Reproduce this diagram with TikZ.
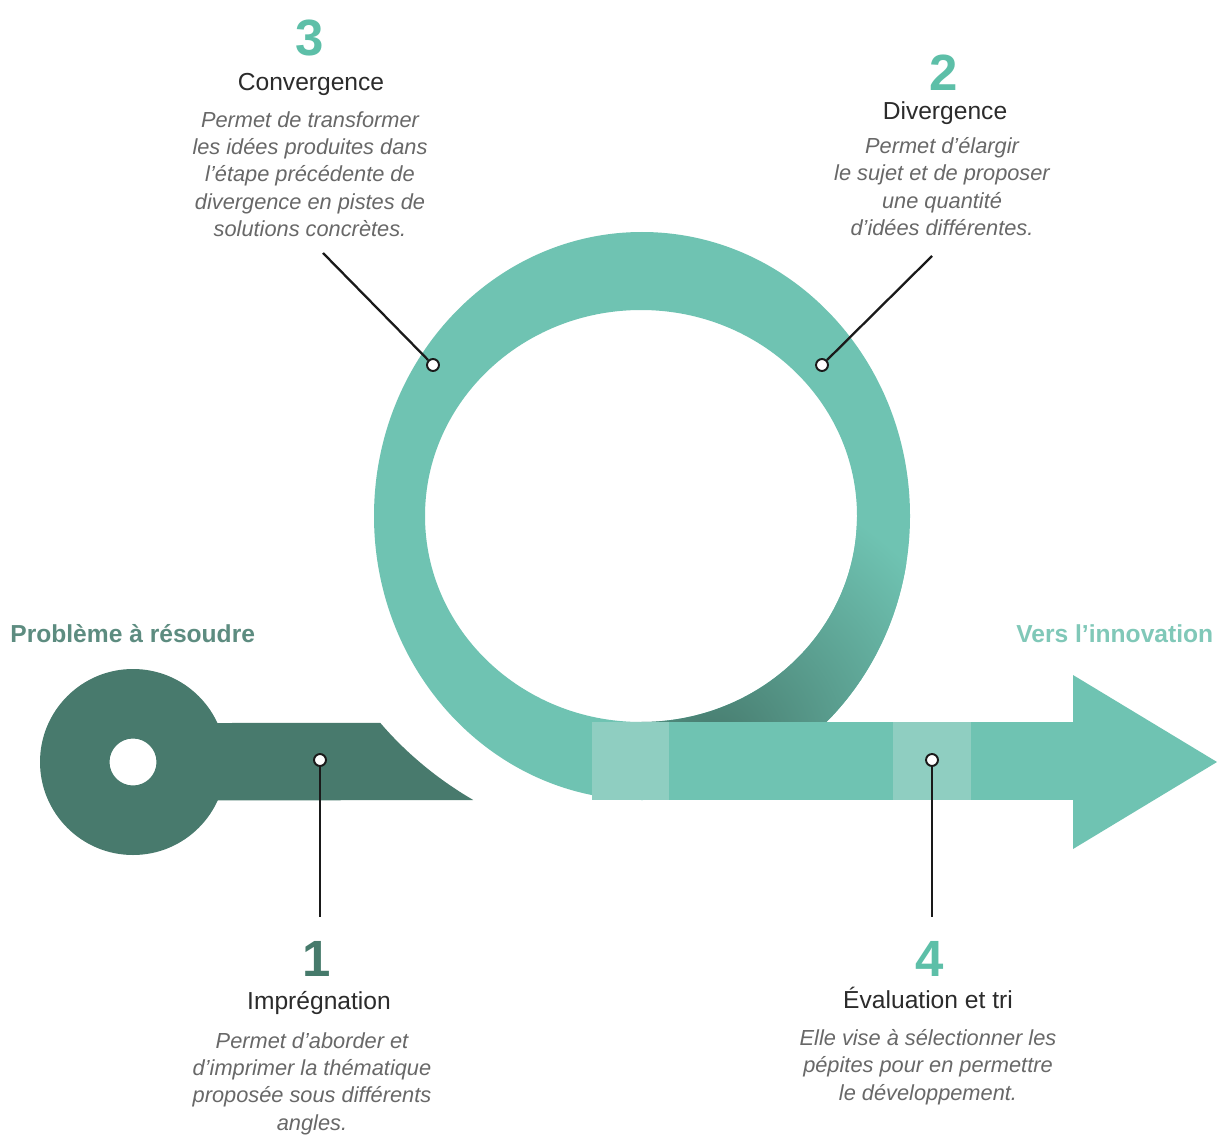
\documentclass[tikz,border=0pt]{standalone}
\usepackage{fontspec}
\setmainfont{Liberation Sans}
\definecolor{ringcol}{HTML}{6FC3B2}
\definecolor{lightsq}{HTML}{8FCEC1}
\definecolor{keycol}{HTML}{487A6D}
\definecolor{shadowcol}{HTML}{467A6D}
\definecolor{numteal}{HTML}{5DBFA8}
\definecolor{numdark}{HTML}{467A6B}
\definecolor{titlecol}{HTML}{2B2B2B}
\definecolor{desccol}{HTML}{686868}
\definecolor{linecol}{HTML}{1A1A1A}
\definecolor{probcol}{HTML}{5D8C80}
\definecolor{verscol}{HTML}{80C8B8}
\begin{document}
\begin{tikzpicture}[x=0.02cm,y=-0.02cm,
  numtext/.style={font=\fontsize{29}{29}\selectfont\bfseries, anchor=base, inner sep=0},
  titletext/.style={font=\fontsize{14}{16}\selectfont, text=titlecol, anchor=base, inner sep=0},
  desctext/.style={font=\fontsize{12.4}{15.6}\selectfont\itshape, text=desccol, align=center, anchor=north, inner sep=0},
  sidetext/.style={font=\fontsize{14}{16}\selectfont\bfseries, anchor=base west, inner sep=0},
  dot/.style={circle, draw=linecol, fill=white, line width=1.1pt, minimum size=6.8pt, inner sep=0},
  callout/.style={draw=linecol, line width=1.3pt}]
\useasboundingbox (0,0) rectangle (1217,1135);
\fill[white] (0,0) rectangle (1217,1135);

% key (dark part)
\fill[keycol, even odd rule] (133,762) circle (93) (133,762) circle (23.5);
\fill[keycol] (200,723)
   -- plot[domain=37.76:57.17, samples=40] ({676-374*cos(\x)},{516+338*sin(\x)})
   -- (200,800.5) -- cycle;

% ring
\fill[ringcol, even odd rule] (642,516) ellipse [x radius=268, y radius=284]
   (641,516) ellipse [x radius=216, y radius=206];
\begin{scope}[even odd rule]
  \clip (642,516) ellipse [x radius=268, y radius=284]
     (641,516) ellipse [x radius=216, y radius=206];
  \clip (641,480) rectangle (930,722.5);
  \shade[inner color=shadowcol, outer color=ringcol] (710,748) circle (270);
\end{scope}

% bar and arrow head
\fill[ringcol] (592,722) rectangle (1075,800);
\fill[ringcol] (1073,675) -- (1217,762) -- (1073,849) -- cycle;
\fill[lightsq] (592,722) rectangle (669,800);
\fill[lightsq] (893,722) rectangle (971,800);

% side labels
\node[sidetext, text=probcol] (prob) at (10,642) {Problème à résoudre};
\node[sidetext, text=verscol] (vers) at (1016,642) {Vers l’innovation};

% callouts
\node[dot] (d1) at (320,760) {};
\node[dot] (d4) at (932,760) {};
\node[dot] (d3) at (433,365) {};
\node[dot] (d2) at (822,365) {};
\coordinate (e1) at (320,917);
\coordinate (e4) at (932,917);
\coordinate (e3) at (323,253);
\coordinate (e2) at (932,256);
\draw[callout] (d1) -- (e1);
\draw[callout] (d4) -- (e4);
\draw[callout] (d3) -- (e3);
\draw[callout] (d2) -- (e2);

% step 3
\node[numtext, text=numteal] (n3) at (310,56) {3};
\node[titletext] (t3) at (311,91) {Convergence};
\node[desctext] (x3) at (310,111) {Permet de transformer\\les idées produites dans\\l’étape précédente de\\divergence en pistes de\\solutions concrètes.};

% step 2
\node[numtext, text=numteal] (n2) at (944,91) {2};
\node[titletext] (t2) at (945,120) {Divergence};
\node[desctext] (x2) at (942,137) {Permet d’élargir\\le sujet et de proposer\\une quantité\\d’idées différentes.};

% step 1
\node[numtext, text=numdark] (n1) at (317,976) {1};
\node[titletext] (t1) at (319,1009) {Imprégnation};
\node[desctext] (x1) at (312,1032) {Permet d’aborder et\\d’imprimer la thématique\\proposée sous différents\\angles.};

% step 4
\node[numtext, text=numteal] (n4) at (930,976) {4};
\node[titletext] (t4) at (928,1008) {Évaluation et tri};
\node[desctext] (x4) at (928,1029) {Elle vise à sélectionner les\\pépites pour en permettre\\le développement.};
\end{tikzpicture}
\end{document}
